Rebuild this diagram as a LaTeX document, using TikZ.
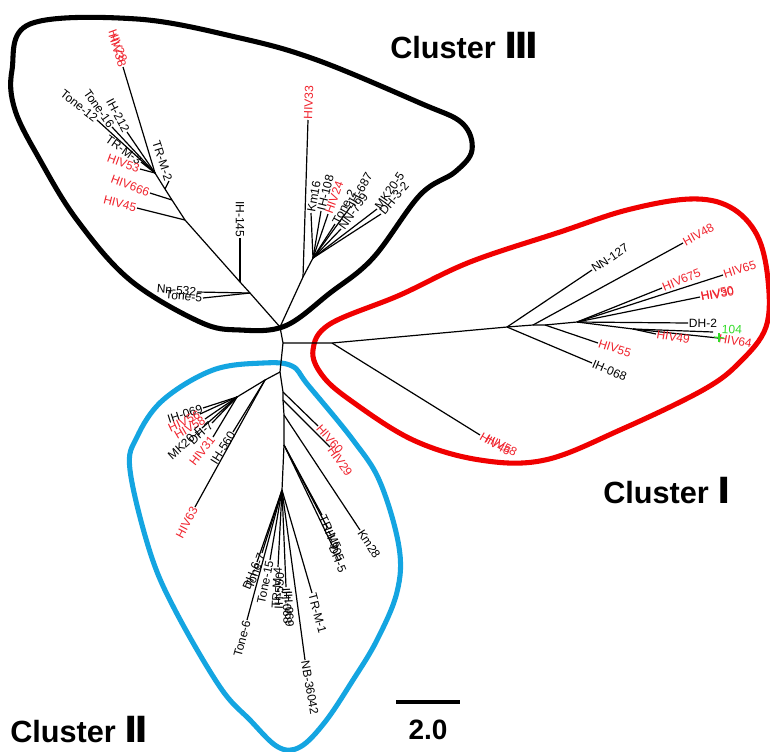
\documentclass[tikz,border=0pt]{standalone}
\usepackage{fontspec}
\setmainfont{Liberation Sans}
\newfontfamily\numfont{DejaVu Sans}
\definecolor{hivred}{RGB}{240,35,45}
\definecolor{outred}{RGB}{240,0,0}
\definecolor{outblue}{RGB}{20,165,225}
\definecolor{hivgreen}{RGB}{50,220,40}
\begin{document}
\begin{tikzpicture}[x=0.75pt,y=-0.75pt,
  br/.style={line width=0.9pt, black},
  lb/.style={font=\fontsize{9}{9}\selectfont, inner sep=0.5pt, text=black},
  lr/.style={lb, text=hivred},
  lg/.style={lb, text=hivgreen},
  blob/.style={line width=3.8pt},
  clab/.style={font=\fontsize{23}{23}\selectfont\bfseries, inner sep=0pt}]
\useasboundingbox (0,0) rectangle (770,751);
\fill[white] (0,0) rectangle (770,751);

% ---------- outlines ----------
\draw[blob, black] plot[smooth cycle, tension=0.6] coordinates {(12,70) (30,24) (137,19) (240,38) (317,60) (420,103) (462,123) (472,150) (455,172) (420,195) (373,258) (330,293) (285,326) (240,330) (200,322) (130,280) (77,220) (40,160) (15,110)};
\draw[blob, outred] plot[smooth cycle, tension=0.6] coordinates {(313,350) (330,324) (400,295) (470,262) (560,232) (627,210) (690,199) (730,207) (757,235) (768,280) (766,327) (740,362) (703,390) (620,430) (545,460) (480,460) (413,440) (350,400) (322,375)};
\draw[blob, outblue] plot[smooth cycle, tension=0.6] coordinates {(263,363) (292,366) (308,385) (353,440) (380,482) (399,547) (397,592) (377,640) (353,680) (325,722) (300,747) (278,747) (250,720) (220,687) (175,610) (150,552) (130,470) (137,437) (163,400) (213,370)};

% ---------- root ----------
\coordinate (R) at (283,343);

% ---------- Cluster I ----------
\coordinate (a1) at (332,343);
\coordinate (a2) at (507,327);
\coordinate (a3) at (533,325);
\coordinate (a4) at (545,325);
\coordinate (a5) at (577,322);
\coordinate (a6) at (633,329);
\coordinate (l4658) at (480,435);
\coordinate (lnn127) at (592,270);
\coordinate (lhiv48) at (683,243);
\coordinate (lih068) at (592,363);
\coordinate (lhiv55) at (598,343);
\coordinate (lhiv675) at (662,288);
\coordinate (lhiv65) at (723,275);
\coordinate (lhiv50) at (700,297);
\coordinate (ldh2) at (688,323);
\coordinate (lhiv49) at (656,334);
\coordinate (l104) at (713,332);
\coordinate (lhiv64) at (718,338);
\coordinate (g1) at (714,337);
\coordinate (g2) at (724,338);
\coordinate (g3) at (719,333);
\coordinate (g4) at (719,342);

\draw[br] (R) -- (a1) -- (a2) -- (a3) -- (a4) -- (a5) -- (a6);
\draw[br] (a1) -- (l4658);
\draw[br] (a2) -- (lnn127);
\draw[br] (a3) -- (lhiv48);
\draw[br] (a2) -- (lih068);
\draw[br] (a4) -- (lhiv55);
\draw[br] (a5) -- (lhiv675);
\draw[br] (a5) -- (lhiv65);
\draw[br] (a5) -- (lhiv50);
\draw[br] (a5) -- (ldh2);
\draw[br] (a6) -- (lhiv49);
\draw[br] (a6) -- (l104);
\draw[br] (a6) -- (lhiv64);

\node[lr, rotate=-30, anchor=west] (t46) at (l4658) {HIV46};
\node[lr, rotate=-28, anchor=west] (t58) at (486,437) {HIV58};
\node[lb, rotate=34, anchor=west] (tnn127) at (lnn127) {NN-127};
\node[lr, rotate=29, anchor=west] (t48) at (lhiv48) {HIV48};
\node[lb, rotate=-23, anchor=west] (tih068) at (lih068) {IH-068};
\node[lr, rotate=-18, anchor=west] (t55) at (lhiv55) {HIV55};
\node[lr, rotate=22, anchor=west] (t675) at (lhiv675) {HIV675};
\node[lr, rotate=18, anchor=west] (t65) at (lhiv65) {HIV65};
\node[lr, rotate=12, anchor=west] (t50) at (lhiv50) {HIV50};
\node[lr, rotate=9, anchor=west] (t30) at (lhiv50) {HIV30};
\node[lb, anchor=west] (tdh2) at (ldh2) {DH-2};
\node[lr, rotate=-10, anchor=west] (t49) at (lhiv49) {HIV49};
\node[lr, rotate=-10, anchor=west] (t64) at (lhiv64) {HIV64};
\node[lg, rotate=-3, anchor=west] (t104) at (721,329) {104};
\draw[hivgreen, line width=0.9pt] (g1) -- (g2);
\draw[hivgreen, line width=0.9pt] (g3) -- (g4);

% ---------- Cluster III ----------
\coordinate (b1) at (280,327);
\coordinate (b2) at (303,277);
\coordinate (b3) at (313,258);
\coordinate (lhiv33) at (308,120);
\coordinate (lkm16) at (311,213);
\coordinate (lih108) at (321,211);
\coordinate (lhiv24) at (328,214);
\coordinate (ltone2) at (335,224);
\coordinate (lih687) at (351,206);
\coordinate (lnn799) at (341,229);
\coordinate (lmk205) at (377,209);
\coordinate (ldh32) at (381,214);

\draw[br] (R) -- (b1) -- (b2) -- (b3);
\draw[br] (b2) -- (lhiv33);
\foreach \p in {lkm16,lih108,lhiv24,ltone2,lih687,lnn799,lmk205,ldh32} \draw[br] (b3) -- (\p);

\node[lr, rotate=88, anchor=west] (t33) at (lhiv33) {HIV33};
\node[lb, rotate=80, anchor=west] (tkm16) at (lkm16) {Km16};
\node[lb, rotate=76, anchor=west] (tih108) at (lih108) {IH-108};
\node[lr, rotate=70, anchor=west] (t24) at (lhiv24) {HIV24};
\node[lb, rotate=62, anchor=west] (ttone2) at (ltone2) {Tone-2};
\node[lb, rotate=60, anchor=west] (tih687) at (lih687) {IH-687};
\node[lb, rotate=55, anchor=west] (tnn799) at (lnn799) {NN-799};
\node[lb, rotate=55, anchor=west] (tmk205) at (lmk205) {MK20-5};
\node[lb, rotate=50, anchor=west] (tdh32) at (ldh32) {DH-3-2};

\coordinate (j1) at (250,293);
\coordinate (jih) at (240,282);
\coordinate (j5) at (185,220);
\coordinate (j6) at (172,200);
\coordinate (j6b) at (165,189);
\coordinate (j7) at (155,173);
\coordinate (lnn532) at (197,292);
\coordinate (ltone5) at (203,298);
\coordinate (lih145) at (240,238);
\coordinate (lhiv45) at (137,208);
\coordinate (lhiv666) at (150,193);
\coordinate (ltrm2) at (169,181);
\coordinate (lhiv38) at (123,67);
\coordinate (ltone12) at (97,120);
\coordinate (ltone16) at (112,127);
\coordinate (lih212) at (127,132);
\coordinate (ltrm3) at (141,162);
\coordinate (lhiv53) at (140,169);

\draw[br] (b1) -- (j1) -- (jih) -- (j5) -- (j6) -- (j6b) -- (j7);
\draw[br] (j1) -- (lnn532);
\draw[br] (j1) -- (ltone5);
\draw[br] (jih) -- (lih145);
\draw[br] (j5) -- (lhiv45);
\draw[br] (j6) -- (lhiv666);
\draw[br] (j6b) -- (ltrm2);
\foreach \p in {lhiv38,ltone12,ltone16,lih212,ltrm3,lhiv53} \draw[br] (j7) -- (\p);

\node[lb, rotate=-5, anchor=east] (tnn532) at (lnn532) {Nn-532};
\node[lb, rotate=-5, anchor=east] (ttone5) at (ltone5) {Tone-5};
\node[lb, rotate=-90, anchor=east] (tih145) at (lih145) {IH-145};
\node[lr, rotate=-14, anchor=east] (t45) at (lhiv45) {HIV45};
\node[lr, rotate=-20, anchor=east] (t666) at (lhiv666) {HIV666};
\node[lb, rotate=-72, anchor=east] (ttrm2) at (ltrm2) {TR-M-2};
\node[lr, rotate=-72, anchor=east] (t38) at (lhiv38) {HIV38};
\node[lr, rotate=-70, anchor=east] (t28) at (124,62) {HIV28};
\node[lb, rotate=-38, anchor=east] (ttone12) at (ltone12) {Tone-12};
\node[lb, rotate=-55, anchor=east] (ttone16) at (ltone16) {Tone-16};
\node[lb, rotate=-62, anchor=east] (tih212) at (lih212) {IH-212};
\node[lb, rotate=-35, anchor=east] (ttrm3) at (ltrm3) {TR-M-3};
\node[lr, rotate=-20, anchor=east] (t53) at (lhiv53) {HIV53};

% ---------- Cluster II ----------
\coordinate (c1) at (280,372);
\coordinate (c3) at (265,380);
\coordinate (c2) at (237,397);
\coordinate (lih069) at (203,408);
\coordinate (lhiv56) at (200,414);
\coordinate (lhiv58) at (205,419);
\coordinate (lmk20f) at (202,428);
\coordinate (ldh7) at (212,423);
\coordinate (lhiv31) at (213,437);
\coordinate (lih560) at (233,432);
\coordinate (lhiv63) at (195,507);
\coordinate (s1) at (283,392);
\coordinate (s1b) at (283,400);
\coordinate (s2) at (284,415);
\coordinate (s3) at (284,445);
\coordinate (s4) at (282,490);
\coordinate (lhiv60) at (318,426);
\coordinate (lhiv29) at (330,447);
\coordinate (lkm28) at (360,530);
\coordinate (ltrm5) at (322,515);
\coordinate (lih905) at (327,527);
\coordinate (ldh5) at (332,545);
\coordinate (ltrm1) at (312,593);
\coordinate (lnb) at (305,660);
\coordinate (lih068b) at (286,587);
\coordinate (ltrm4) at (278,567);
\coordinate (ltone15) at (270,560);
\coordinate (ltone7) at (262,553);
\coordinate (ldh6) at (257,562);
\coordinate (ltone6) at (247,620);

\draw[br] (R) -- (c1) -- (c3) -- (c2);
\foreach \p in {lih069,lhiv56,lhiv58,lmk20f,ldh7,lhiv31} \draw[br] (c2) -- (\p);
\draw[br] (c3) -- (lih560);
\draw[br] (c3) -- (lhiv63);
\draw[br] (c1) -- (s1) -- (s1b) -- (s2) -- (s3) -- (s4);
\draw[br] (s1) -- (lhiv60);
\draw[br] (s1b) -- (lhiv29);
\draw[br] (s2) -- (lkm28);
\draw[br] (s3) -- (ltrm5);
\draw[br] (s3) -- (lih905);
\draw[br] (s3) -- (ldh5);
\foreach \p in {ltrm1,lnb,lih068b,ltrm4,ltone15,ltone7,ldh6,ltone6} \draw[br] (s4) -- (\p);

\node[lb, rotate=18, anchor=east] (tih069) at (lih069) {IH-069};
\node[lr, rotate=25, anchor=east] (t56) at (lhiv56) {HIV56};
\node[lr, rotate=30, anchor=east] (t58b) at (lhiv58) {HIV58};
\node[lb, rotate=42, anchor=east] (tmk20f) at (lmk20f) {MK20-F};
\node[lb, rotate=42, anchor=east] (tdh7) at (ldh7) {DH-7};
\node[lr, rotate=52, anchor=east] (t31) at (lhiv31) {HIV31};
\node[lb, rotate=58, anchor=east] (tih560) at (lih560) {IH-560};
\node[lr, rotate=62, anchor=east] (t63) at (lhiv63) {HIV63};
\node[lr, rotate=-48, anchor=west] (t60) at (lhiv60) {HIV60};
\node[lr, rotate=-55, anchor=west] (t29) at (lhiv29) {HIV29};
\node[lb, rotate=-57, anchor=west] (tkm28) at (lkm28) {Km28};
\node[lb, rotate=-65, anchor=west] (ttrm5) at (ltrm5) {TR-M5};
\node[lb, rotate=-68, anchor=west] (tih905) at (lih905) {IH-905};
\node[lb, rotate=-68, anchor=west] (tdh5) at (ldh5) {DH-5};
\node[lb, rotate=-75, anchor=west] (ttrm1) at (ltrm1) {TR-M-1};
\node[lb, rotate=-80, anchor=west] (tnb) at (lnb) {NB-36042};
\node[lb, rotate=-87, anchor=west] (tih068b) at (lih068b) {IH-068};
\node[lb, rotate=-87, anchor=west] (tih069b) at (288,590) {IH-069};
\node[lb, rotate=87, anchor=east] (ttrm4) at (ltrm4) {TR-M-4};
\node[lb, rotate=88, anchor=east] (tih550) at (280,572) {IH-550};
\node[lb, rotate=78, anchor=east] (ttone15) at (ltone15) {Tone-15};
\node[lb, rotate=70, anchor=east] (ttone7) at (ltone7) {Tone-7};
\node[lb, rotate=68, anchor=east] (tdh6) at (ldh6) {DH-6};
\node[lb, rotate=75, anchor=east] (ttone6) at (ltone6) {Tone-6};

% ---------- cluster labels ----------
\node[clab, anchor=base west] (cl3) at (390,58) {Cluster {\numfont\fontsize{27}{27}\selectfont Ⅲ}};
\node[clab, anchor=base west] (cl1) at (603,503) {Cluster {\numfont\fontsize{27}{27}\selectfont Ⅰ}};
\node[clab, anchor=base west] (cl2) at (10,742) {Cluster {\numfont\fontsize{27}{27}\selectfont Ⅱ}};

% ---------- scale bar ----------
\coordinate (sb1) at (396,702);
\coordinate (sb2) at (460,702);
\draw[line width=3pt] (sb1) -- (sb2);
\node[font=\fontsize{21}{21}\selectfont\bfseries, anchor=base, inner sep=0pt] (sbl) at (428,739) {2.0};
\end{tikzpicture}
\end{document}
